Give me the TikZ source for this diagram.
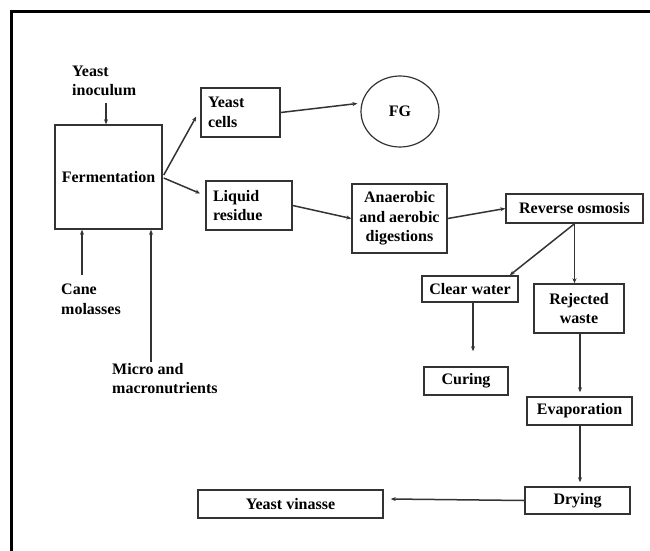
\documentclass[tikz,border=0pt]{standalone}
\usepackage{fontspec}
\setmainfont{Liberation Serif}
\usetikzlibrary{arrows.meta,calc,shapes.geometric}
\begin{document}
\begin{tikzpicture}[x=1pt,y=-1pt,
  font=\fontsize{16}{19.5}\selectfont\bfseries,
  box/.style={draw=black!80,line width=1.5pt,inner sep=0pt,align=center},
  lbl/.style={inner sep=0pt,align=left,anchor=west},
  arr/.style={draw=black!80,line width=1.5pt,-{Stealth[length=5pt,width=4pt]}},
]
\useasboundingbox (0,0) rectangle (650,551);
\draw[line width=3pt] (11,551) -- (11,12) -- (650,12);

% boxes
\node[box,minimum width=107pt,minimum height=104pt] (ferm) at (108.5,177) {Fermentation};
\node[box,minimum width=79pt,minimum height=49pt,text width=65pt,align=left] (ycells) at (240.5,112.5) {Yeast\\cells};
\node[box,minimum width=86pt,minimum height=49pt,text width=72pt,align=left] (liquid) at (249,205.5) {Liquid\\residue};
\node[box,ellipse,line width=1.2pt,minimum width=78pt,minimum height=71pt] (fg) at (400,111.5) {FG};
\node[box,minimum width=95pt,minimum height=69pt] (anaer) at (399.5,218.5) {Anaerobic\\and aerobic\\digestions};
\node[box,minimum width=137pt,minimum height=29pt] (ro) at (574.5,208.5) {Reverse osmosis};
\node[box,minimum width=96pt,minimum height=26pt] (clear) at (470,289) {Clear water};
\node[box,minimum width=90pt,minimum height=49pt] (rej) at (579,308.5) {Rejected\\waste};
\node[box,minimum width=84pt,minimum height=28pt] (curing) at (466,381) {Curing};
\node[box,minimum width=105pt,minimum height=28pt] (evap) at (579.5,411) {Evaporation};
\node[box,minimum width=105pt,minimum height=27pt] (drying) at (577.5,500.5) {Drying};
\node[box,minimum width=185pt,minimum height=28pt] (vinasse) at (290.5,504) {Yeast vinasse};

% free labels
\node[lbl] (inoc) at (72,81) {Yeast\\inoculum};
\node[lbl] (cane) at (61,299.5) {Cane\\molasses};
\node[lbl] (micro) at (112,378.5) {Micro and\\macronutrients};

% connector end points
\coordinate (inocS) at (106,103);
\coordinate (caneT) at (82,275);
\coordinate (microT) at (151,362);
\coordinate (curT) at ($(curing.north)+(7,-15)$);

% connectors
\draw[arr] (inocS) -- (inocS |- ferm.north);
\draw[arr] (caneT) -- (caneT |- ferm.south);
\draw[arr] (microT) -- (microT |- ferm.south);
\draw[arr] ($(ferm.east)+(1,-2)$) -- ($(ycells.west)+(-4,4)$);
\draw[arr] ($(ferm.east)+(1,1)$) -- ($(liquid.west)+(-5,-12)$);
\draw[arr] (ycells.east) -- ($(fg.west)+(-3,-8)$);
\draw[arr] (liquid.east) -- (anaer.west);
\draw[arr] (anaer.east) -- (ro.west);
\draw[arr] (ro.south) -- ($(clear.north east)+(-9,0)$);
\draw[arr] (ro.south) -- (ro.south |- rej.north);
\draw[arr] (curT |- clear.south) -- (curT);
\draw[arr] ($(rej.south)+(1,0)$) -- ($(rej.south |- evap.north)+(1,-4)$);
\draw[arr] ($(evap.south)+(0.5,0)$) -- ($(evap.south |- drying.north)+(0.5,-4)$);
\draw[arr] (drying.west) -- ($(vinasse.east)+(7,-5)$);
\end{tikzpicture}
\end{document}
